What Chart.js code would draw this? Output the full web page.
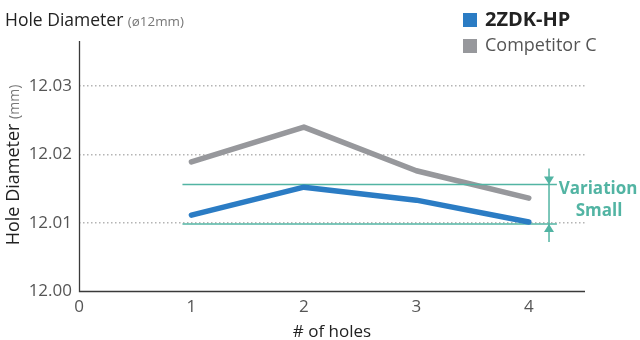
<!DOCTYPE html>
<html>
<head>
<meta charset="utf-8">
<script src="https://cdn.jsdelivr.net/npm/chart.js@4.4.1/dist/chart.umd.min.js"></script>
<style>
  html, body { margin: 0; padding: 0; background: #fff; }
  #wrap { width: 640px; height: 340px; position: relative; }
</style>
</head>
<body>
<div id="wrap"><canvas id="c" width="640" height="340"></canvas></div>
<script>
// Hole number along the x axis
const holes = [1, 2, 3, 4];
// Measured hole diameter (mm) for each drill
const seriesHP = [12.0111, 12.0152, 12.0133, 12.0101];
const seriesCompC = [12.0189, 12.0240, 12.0176, 12.0136];
// Band showing the spread of the 2ZDK-HP results
const bandLimits = [12.0098, 12.0156];
const bandSpan = [0.92, 4.25];
const bandArrowAt = 4.18;
// Axis ticks
const xTicks = [0, 1, 2, 3, 4];
const xTickLabels = ['0', '1', '2', '3', '4'];
const yTicks = [12.00, 12.01, 12.02, 12.03];
const yTickLabels = ['12.00', '12.01', '12.02', '12.03'];

const FONT = "'Open Sans', 'Noto Sans', sans-serif";
const BLUE = '#2b7cc4';
const GREY = '#97989c';
const TEAL = '#52b4a3';

const toPts = (xs, ys) => xs.map((x, i) => ({ x: x, y: ys[i] }));

const extras = {
  id: 'extras',
  afterDraw(chart) {
    const { ctx, chartArea: a, scales: { x, y } } = chart;
    ctx.save();

    // axis lines
    ctx.strokeStyle = '#3a3a3a';
    ctx.lineWidth = 1.3;
    ctx.beginPath();
    ctx.moveTo(a.left + 0.5, a.top);
    ctx.lineTo(a.left + 0.5, a.bottom + 0.5);
    ctx.lineTo(a.right, a.bottom + 0.5);
    ctx.stroke();

    // variation arrow
    const ax = x.getPixelForValue(bandArrowAt);
    const yHi = y.getPixelForValue(bandLimits[1]);
    const yLo = y.getPixelForValue(bandLimits[0]);
    ctx.strokeStyle = TEAL;
    ctx.fillStyle = TEAL;
    ctx.lineWidth = 1.5;
    ctx.beginPath();
    ctx.moveTo(ax, yHi - 16);
    ctx.lineTo(ax, yLo + 18);
    ctx.stroke();
    ctx.beginPath();
    ctx.moveTo(ax, yHi);
    ctx.lineTo(ax - 5, yHi - 8);
    ctx.lineTo(ax + 5, yHi - 8);
    ctx.closePath();
    ctx.fill();
    ctx.beginPath();
    ctx.moveTo(ax, yLo);
    ctx.lineTo(ax - 5, yLo + 8);
    ctx.lineTo(ax + 5, yLo + 8);
    ctx.closePath();
    ctx.fill();

    ctx.font = 'bold 17px ' + FONT;
    ctx.textAlign = 'center';
    ctx.textBaseline = 'middle';
    ctx.fillText('Variation', ax + 49, 189);
    ctx.fillText('Small', ax + 50, 211);

    // title
    ctx.textAlign = 'left';
    ctx.textBaseline = 'alphabetic';
    ctx.fillStyle = '#222';
    ctx.font = '17.5px ' + FONT;
    ctx.fillText('Hole Diameter', 5, 26);
    const tw = ctx.measureText('Hole Diameter ').width;
    ctx.fillStyle = '#777';
    ctx.font = '13.4px ' + FONT;
    ctx.fillText('(ø12mm)', 5 + tw, 26);

    // legend
    ctx.fillStyle = BLUE;
    ctx.fillRect(463, 13, 14, 14);
    ctx.fillStyle = GREY;
    ctx.fillRect(463, 39, 14, 14);
    ctx.textBaseline = 'middle';
    ctx.fillStyle = '#222';
    ctx.font = 'bold 20px ' + FONT;
    ctx.fillText('2ZDK-HP', 485, 20);
    ctx.fillStyle = '#555';
    ctx.font = '18px ' + FONT;
    ctx.fillText('Competitor C', 485, 46);

    // x axis title
    ctx.fillStyle = '#222';
    ctx.font = '17px ' + FONT;
    ctx.textAlign = 'center';
    ctx.fillText('# of holes', (a.left + a.right) / 2, 332);

    // y axis title
    ctx.translate(14, 165);
    ctx.rotate(-Math.PI / 2);
    ctx.font = '18px ' + FONT;
    const t1 = 'Hole Diameter ';
    const w1 = ctx.measureText(t1).width;
    ctx.font = '14px ' + FONT;
    const t2 = '(mm)';
    const w2 = ctx.measureText(t2).width;
    const sx = -(w1 + w2) / 2;
    ctx.textAlign = 'left';
    ctx.font = '18px ' + FONT;
    ctx.fillStyle = '#222';
    ctx.fillText(t1, sx, 0);
    ctx.font = '14px ' + FONT;
    ctx.fillStyle = '#777';
    ctx.fillText(t2, sx + w1, 1);

    ctx.restore();
  }
};

new Chart(document.getElementById('c'), {
  type: 'line',
  data: {
    datasets: [
      {
        label: 'Competitor C',
        data: toPts(holes, seriesCompC),
        borderColor: GREY,
        borderWidth: 5.5,
        pointRadius: 0,
        borderCapStyle: 'round',
        borderJoinStyle: 'round',
        order: 2
      },
      {
        label: 'band-high',
        data: toPts(bandSpan, [bandLimits[1], bandLimits[1]]),
        borderColor: TEAL,
        borderWidth: 1.5,
        pointRadius: 0,
        order: 1
      },
      {
        label: '2ZDK-HP',
        data: toPts(holes, seriesHP),
        borderColor: BLUE,
        borderWidth: 5.5,
        pointRadius: 0,
        borderCapStyle: 'round',
        borderJoinStyle: 'round',
        order: 0
      },
      {
        label: 'band-low',
        data: toPts(bandSpan, [bandLimits[0], bandLimits[0]]),
        borderColor: TEAL,
        borderWidth: 1.5,
        pointRadius: 0,
        order: 1
      }
    ]
  },
  options: {
    responsive: false,
    animation: false,
    events: [],
    layout: { padding: { top: 41, right: 55, left: 0, bottom: 0 } },
    plugins: { legend: { display: false }, tooltip: { enabled: false } },
    scales: {
      x: {
        type: 'linear',
        min: 0,
        max: 4.5,
        afterBuildTicks: (s) => { s.ticks = xTicks.map(v => ({ value: v })); },
        afterFit: (s) => { s.height = 49; },
        grid: { display: false, drawTicks: false },
        border: { display: false },
        ticks: {
          padding: 6,
          color: '#555',
          font: { family: FONT, size: 17 },
          callback: (v) => xTickLabels[xTicks.indexOf(v)]
        }
      },
      y: {
        type: 'linear',
        min: 12,
        max: 12.0366,
        afterBuildTicks: (s) => { s.ticks = yTicks.map(v => ({ value: v })); },
        afterFit: (s) => { s.width = 79; },
        grid: {
          drawTicks: false,
          lineWidth: 1.5,
          color: (c) => (c.tick && Math.abs(c.tick.value - 12) < 1e-6) ? 'rgba(0,0,0,0)' : '#b4b4b4'
        },
        border: { display: false, dash: [1.5, 2.5] },
        ticks: {
          padding: 7,
          color: '#555',
          font: { family: FONT, size: 17 },
          callback: (v) => {
            const i = yTicks.findIndex(t => Math.abs(t - v) < 1e-6);
            return i >= 0 ? yTickLabels[i] : '';
          }
        }
      }
    }
  },
  plugins: [extras]
});
</script>
</body>
</html>
